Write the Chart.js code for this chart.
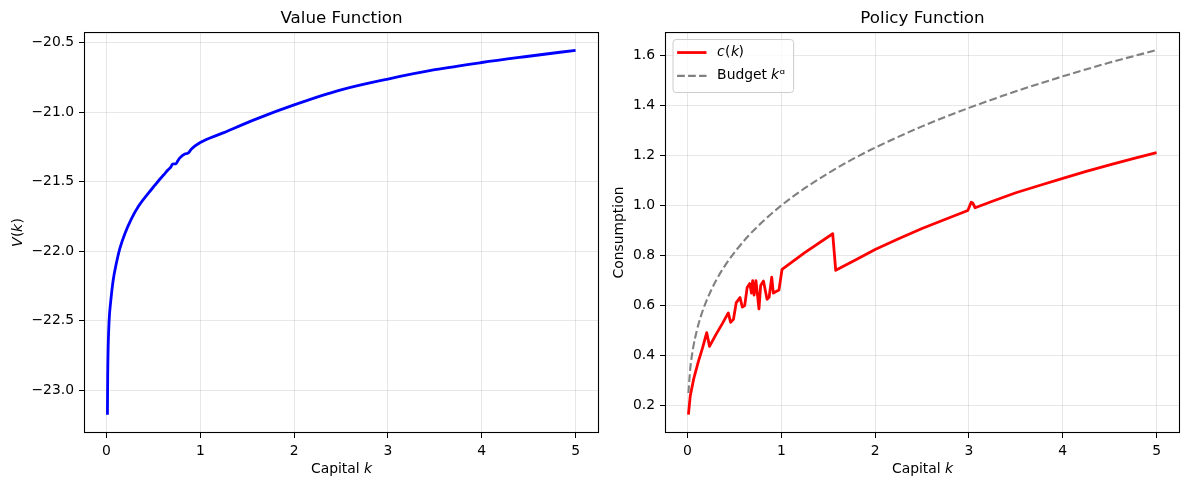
<!DOCTYPE html>
<html>
<head>
<meta charset="utf-8">
<script src="https://cdn.jsdelivr.net/npm/chart.js@4.4.1/dist/chart.umd.min.js"></script>
<style>
    html, body { margin: 0; padding: 0; background: #fff; }
    #wrap { position: relative; width: 1189px; height: 490px; }
    #chartValue { position: absolute; left: 0; top: 0; }
    #chartPolicy { position: absolute; left: 600px; top: 0; }
</style>
</head>
<body>
<div id="wrap">
    <canvas id="chartValue" width="600" height="490"></canvas>
    <canvas id="chartPolicy" width="589" height="490"></canvas>
</div>
<script>
// =========================
// DATA
// =========================
const capitalV = [0.010, 0.013, 0.018, 0.028, 0.046, 0.071, 0.107, 0.142, 0.196, 0.267, 0.338, 0.445, 0.516, 0.568, 0.611, 0.657, 0.690, 0.703, 0.739, 0.760, 0.780, 0.835, 0.870, 0.906, 0.995, 1.243, 1.600, 2.000, 2.500, 3.000, 3.500, 4.000, 4.500, 5.000];
const valueV = [-23.175, -22.90, -22.69, -22.50, -22.355, -22.21, -22.08, -21.98, -21.873, -21.765, -21.68, -21.584, -21.525, -21.482, -21.45, -21.414, -21.39, -21.373, -21.371, -21.35, -21.33, -21.30, -21.294, -21.265, -21.22, -21.149, -21.048, -20.948, -20.840, -20.762, -20.695, -20.643, -20.598, -20.555];

const capitalC = [0.010, 0.030, 0.065, 0.115, 0.160, 0.205, 0.235, 0.300, 0.370, 0.435, 0.460, 0.490, 0.520, 0.560, 0.585, 0.610, 0.636, 0.664, 0.682, 0.695, 0.710, 0.730, 0.762, 0.780, 0.810, 0.848, 0.870, 0.898, 0.915, 0.975, 1.008, 1.250, 1.548, 1.580, 1.800, 2.000, 2.250, 2.500, 2.750, 2.988, 3.024, 3.040, 3.066, 3.250, 3.500, 3.750, 4.000, 4.250, 4.500, 4.750, 5.000];
const consumption = [0.164, 0.240, 0.305, 0.375, 0.430, 0.492, 0.437, 0.482, 0.527, 0.571, 0.533, 0.545, 0.612, 0.632, 0.594, 0.600, 0.672, 0.688, 0.650, 0.700, 0.642, 0.700, 0.587, 0.680, 0.698, 0.625, 0.633, 0.714, 0.650, 0.662, 0.745, 0.812, 0.887, 0.741, 0.784, 0.824, 0.867, 0.908, 0.945, 0.980, 1.013, 1.010, 0.991, 1.017, 1.051, 1.080, 1.108, 1.136, 1.162, 1.187, 1.211];

const capitalB = [0.010, 0.030, 0.060, 0.100, 0.150, 0.200, 0.300, 0.400, 0.500, 0.650, 0.800, 1.000, 1.250, 1.500, 1.750, 2.000, 2.500, 3.000, 3.500, 4.000, 4.500, 5.000];
const budget = [0.251, 0.349, 0.430, 0.501, 0.566, 0.617, 0.697, 0.760, 0.812, 0.879, 0.935, 1.000, 1.069, 1.129, 1.183, 1.231, 1.316, 1.390, 1.456, 1.516, 1.571, 1.621];

const xTicks = [0, 1, 2, 3, 4, 5];
const vTicks = [-23.0, -22.5, -22.0, -21.5, -21.0, -20.5];
const cTicks = [0.2, 0.4, 0.6, 0.8, 1.0, 1.2, 1.4, 1.6];

// =========================
// STYLE BERSAMA
// =========================
const gridColor = 'rgba(176, 176, 176, 0.3)';
const baseFont = { family: 'DejaVu Sans', size: 13.9 };
const titleFont = { family: 'DejaVu Sans', size: 16.7, weight: 'normal' };
const italicK = '\u{1D62C}';

const toPoints = (xs, ys) => xs.map((x, i) => ({ x: x, y: ys[i] }));

function axisX() {
    return {
        type: 'linear',
        min: -0.2395,
        max: 5.2495,
        afterBuildTicks: axis => { axis.ticks = xTicks.map(v => ({ value: v })); },
        afterFit: axis => { axis.height = 57; },
        grid: { color: gridColor, lineWidth: 1, tickColor: '#000', tickLength: 5, tickWidth: 1 },
        border: { display: false },
        ticks: { color: '#000', font: baseFont, padding: 5, maxRotation: 0, callback: v => String(v) },
        title: { display: true, text: 'Capital ' + italicK, color: '#000', font: baseFont, padding: { top: 0, bottom: 12 } }
    };
}

function axisY(title, min, max, ticks, width, titlePad) {
    return {
        type: 'linear',
        min: min,
        max: max,
        afterBuildTicks: axis => { axis.ticks = ticks.map(v => ({ value: v })); },
        afterFit: axis => { axis.width = width; },
        grid: { color: gridColor, lineWidth: 1, tickColor: '#000', tickLength: 5, tickWidth: 1 },
        border: { display: false },
        ticks: { color: '#000', font: baseFont, padding: 5, callback: v => Number(v).toFixed(1).replace('-', '\u2212') },
        title: { display: true, text: title, color: '#000', font: baseFont, padding: { top: titlePad, bottom: 0 } }
    };
}

// bingkai hitam di sekeliling area plot
const framePlugin = {
    id: 'frame',
    afterDatasetsDraw(chart) {
        const a = chart.chartArea;
        const ctx = chart.ctx;
        ctx.save();
        ctx.strokeStyle = '#000';
        ctx.lineWidth = 1.1;
        ctx.strokeRect(a.left + 0.5, a.top + 0.5, a.right - a.left - 1, a.bottom - a.top - 1);
        ctx.restore();
    }
};

// legend di dalam area plot (kiri atas)
const boxLegend = {
    id: 'boxLegend',
    afterDraw(chart) {
        const ctx = chart.ctx;
        const a = chart.chartArea;
        const sets = chart.data.datasets;
        ctx.save();
        ctx.font = '13.9px "DejaVu Sans"';
        const textW = Math.max(...sets.map(ds => ctx.measureText(ds.label).width));
        const x0 = a.left + 7.5;
        const y0 = a.top + 7;
        const w = 44.6 + textW + 8;
        const h = 53;
        ctx.beginPath();
        ctx.roundRect(x0 + 0.5, y0 + 0.5, w, h, 3);
        ctx.fillStyle = 'rgba(255, 255, 255, 0.8)';
        ctx.fill();
        ctx.strokeStyle = '#cccccc';
        ctx.lineWidth = 1;
        ctx.stroke();
        sets.forEach((ds, i) => {
            const y = y0 + 13.5 + i * 23.3;
            ctx.beginPath();
            ctx.setLineDash(ds.borderDash || []);
            ctx.strokeStyle = ds.borderColor;
            ctx.lineWidth = ds.borderWidth;
            ctx.moveTo(x0 + 4.6, y);
            ctx.lineTo(x0 + 34, y);
            ctx.stroke();
            ctx.setLineDash([]);
            ctx.fillStyle = '#000';
            ctx.textBaseline = 'middle';
            ctx.fillText(ds.label, x0 + 44.6, y);
        });
        ctx.restore();
    }
};

// =========================
// VALUE FUNCTION
// =========================
new Chart(document.getElementById('chartValue'), {
    type: 'line',
    data: {
        datasets: [{
            label: 'V(k)',
            data: toPoints(capitalV, valueV),
            borderColor: '#0000ff',
            borderWidth: 2.8,
            borderJoinStyle: 'round',
            cubicInterpolationMode: 'monotone',
            pointRadius: 0,
            pointHoverRadius: 0
        }]
    },
    options: {
        responsive: false,
        animation: false,
        layout: { padding: { left: 0, right: 1, top: 0, bottom: 0 } },
        plugins: {
            legend: { display: false },
            tooltip: { enabled: false },
            title: { display: true, fullSize: false, text: 'Value Function', color: '#000', font: titleFont, padding: { top: 9, bottom: 3 } }
        },
        scales: {
            x: axisX(),
            y: axisY('\u{1D61D}(' + italicK + ')', -23.306, -20.424, vTicks, 84, 10)
        }
    },
    plugins: [framePlugin]
});

// =========================
// POLICY FUNCTION
// =========================
new Chart(document.getElementById('chartPolicy'), {
    type: 'line',
    data: {
        datasets: [
            {
                label: '\u{1D624}(' + italicK + ')',
                data: toPoints(capitalC, consumption),
                borderColor: '#ff0000',
                borderWidth: 2.8,
                borderJoinStyle: 'round',
                tension: 0,
                pointRadius: 0,
                pointHoverRadius: 0
            },
            {
                label: 'Budget ' + italicK + '\u1D45',
                data: toPoints(capitalB, budget),
                borderColor: '#808080',
                borderWidth: 2.1,
                borderDash: [7.7, 3.3],
                cubicInterpolationMode: 'monotone',
                pointRadius: 0,
                pointHoverRadius: 0
            }
        ]
    },
    options: {
        responsive: false,
        animation: false,
        layout: { padding: { left: 0, right: 9, top: 0, bottom: 0 } },
        plugins: {
            legend: { display: false },
            tooltip: { enabled: false },
            title: { display: true, fullSize: false, text: 'Policy Function', color: '#000', font: titleFont, padding: { top: 9, bottom: 3 } }
        },
        scales: {
            x: axisX(),
            y: axisY('Consumption', 0.091, 1.693, cTicks, 65, 11)
        }
    },
    plugins: [framePlugin, boxLegend]
});
</script>
</body>
</html>
